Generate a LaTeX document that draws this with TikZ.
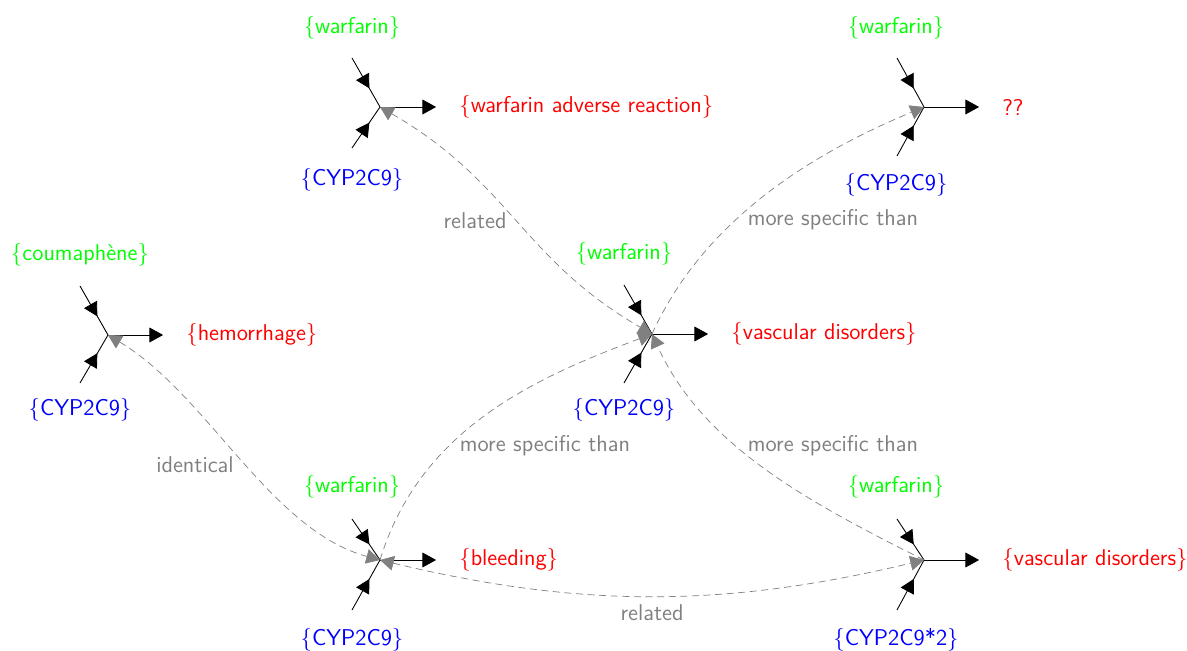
\documentclass[tikz,border=0pt]{standalone}
\usepackage{fontspec}
\usetikzlibrary{arrows.meta, decorations.markings}

\begin{document}
\begin{tikzpicture}[x=0.02cm, y=-0.02cm,
    font=\sffamily\fontsize{13}{15}\selectfont,
    every node/.style={inner sep=0pt},
    >={Triangle[length=7.8pt,width=8.4pt]},
    drug/.style={green},
    gene/.style={blue},
    effect/.style={red, anchor=west},
    leg/.style={line width=0.5pt, postaction={decorate},
      decoration={markings, mark=at position 0.62 with {\arrow{>}}}},
    outleg/.style={line width=0.5pt, ->, shorten >=13pt},
    link/.style={gray, dash pattern=on 4pt off 2.6pt},
    linklabel/.style={gray}]
    \useasboundingbox (0,0) rectangle (1187,651);

    % warfarin adverse reaction
    \coordinate (adr) at (380,107);
    \coordinate (adr-in1) at (352,58);
    \coordinate (adr-in2) at (352,148);
    \node[drug] (adr-d) at (352,28) {\{warfarin\}};
    \node[gene] (adr-g) at (352,180) {\{CYP2C9\}};
    \node[effect] (adr-e) at (459,107) {\{warfarin adverse reaction\}};
    \draw[leg] (adr-in1) -- (adr);
    \draw[leg] (adr-in2) -- (adr);
    \draw[outleg] (adr) -- (adr-e.west);

    % hemorrhage
    \coordinate (hemo) at (108,335);
    \coordinate (hemo-in1) at (80,286);
    \coordinate (hemo-in2) at (80,383);
    \node[drug] (hemo-d) at (80,255) {\{coumaphène\}};
    \node[gene] (hemo-g) at (80,410) {\{CYP2C9\}};
    \node[effect] (hemo-e) at (186,335) {\{hemorrhage\}};
    \draw[leg] (hemo-in1) -- (hemo);
    \draw[leg] (hemo-in2) -- (hemo);
    \draw[outleg] (hemo) -- (hemo-e.west);

    % vascular disorders
    \coordinate (vasc) at (652,334);
    \coordinate (vasc-in1) at (624,285);
    \coordinate (vasc-in2) at (624,383);
    \node[drug] (vasc-d) at (624,254) {\{warfarin\}};
    \node[gene] (vasc-g) at (624,410) {\{CYP2C9\}};
    \node[effect] (vasc-e) at (731,334) {\{vascular disorders\}};
    \draw[leg] (vasc-in1) -- (vasc);
    \draw[leg] (vasc-in2) -- (vasc);
    \draw[outleg] (vasc) -- (vasc-e.west);

    % unknown effect
    \coordinate (unk) at (924,107);
    \coordinate (unk-in1) at (897,58);
    \coordinate (unk-in2) at (897,156);
    \node[drug] (unk-d) at (896,28) {\{warfarin\}};
    \node[gene] (unk-g) at (896,185) {\{CYP2C9\}};
    \node[effect] (unk-e) at (1002,107) {??};
    \draw[leg] (unk-in1) -- (unk);
    \draw[leg] (unk-in2) -- (unk);
    \draw[outleg] (unk) -- (unk-e.west);

    % bleeding
    \coordinate (bleed) at (380,560);
    \coordinate (bleed-in1) at (352,519);
    \coordinate (bleed-in2) at (352,610);
    \node[drug] (bleed-d) at (352,487) {\{warfarin\}};
    \node[gene] (bleed-g) at (352,640) {\{CYP2C9\}};
    \node[effect] (bleed-e) at (459,560) {\{bleeding\}};
    \draw[leg] (bleed-in1) -- (bleed);
    \draw[leg] (bleed-in2) -- (bleed);
    \draw[outleg] (bleed) -- (bleed-e.west);

    % vascular disorders, CYP2C9*2
    \coordinate (vasc2) at (924,560);
    \coordinate (vasc2-in1) at (897,519);
    \coordinate (vasc2-in2) at (897,610);
    \node[drug] (vasc2-d) at (896,487) {\{warfarin\}};
    \node[gene] (vasc2-g) at (896,640) {\{CYP2C9*2\}};
    \node[effect] (vasc2-e) at (1002,560) {\{vascular disorders\}};
    \draw[leg] (vasc2-in1) -- (vasc2);
    \draw[leg] (vasc2-in2) -- (vasc2);
    \draw[outleg] (vasc2) -- (vasc2-e.west);

    % links between relations
    \draw[link, <->] (adr) .. controls +(130,75) and +(-130,-75) .. (vasc);
    \draw[link, <->] (hemo) .. controls +(100,60) and +(-110,-30) .. (bleed);
    \draw[link, ->] (bleed) .. controls +(40,-130) and +(-120,45) .. (vasc);
    \draw[link, ->] (vasc) .. controls +(50,-110) and +(-120,50) .. (unk);
    \draw[link, ->] (vasc2) .. controls +(-120,-60) and +(50,110) .. (vasc);
    \draw[link, <->] (bleed) .. controls +(200,48) and +(-200,48) .. (vasc2);

    \node[linklabel] (l-rel1) at (475,221) {related};
    \node[linklabel] (l-ident) at (195,465) {identical};
    \node[linklabel] (l-spec1) at (545,446) {more specific than};
    \node[linklabel] (l-spec2) at (833,220) {more specific than};
    \node[linklabel] (l-spec3) at (833,446) {more specific than};
    \node[linklabel] (l-rel2) at (652,613) {related};
\end{tikzpicture}
\end{document}
